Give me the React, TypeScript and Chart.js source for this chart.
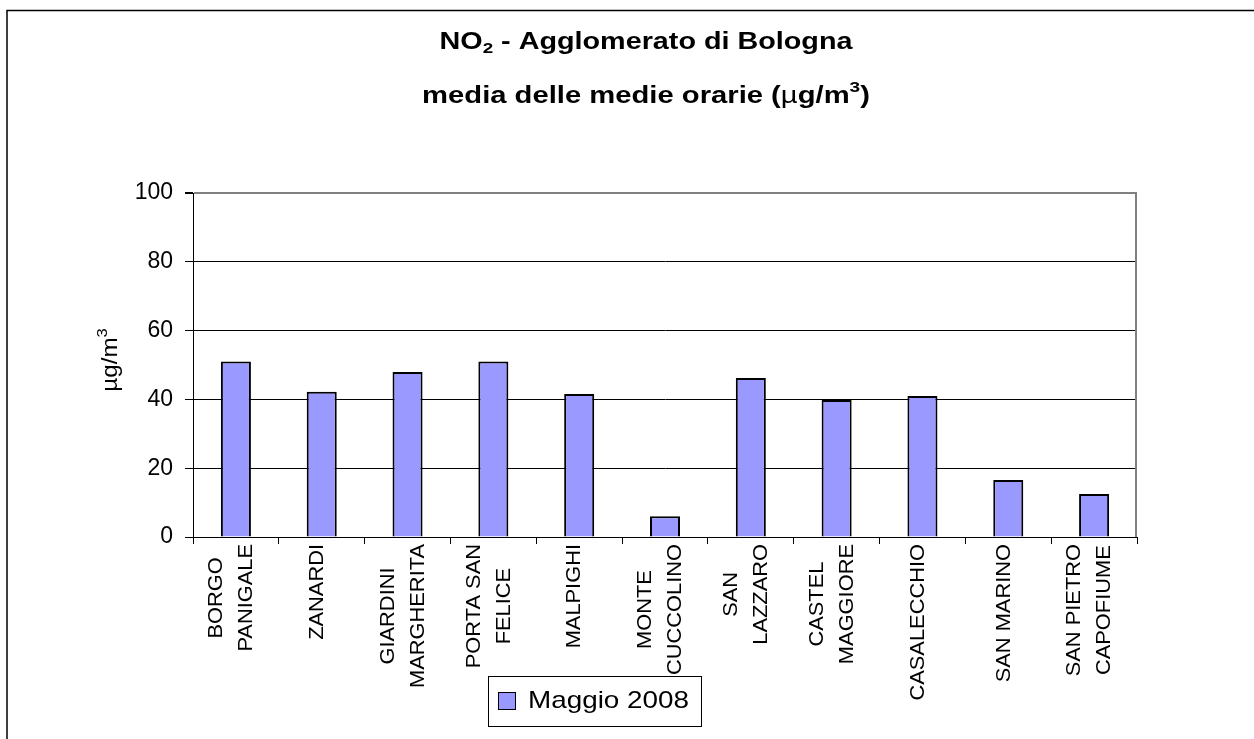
import React, { useEffect, useRef } from "react";
import { Chart, registerables } from "chart.js";

Chart.register(...registerables);

const categories: string[][] = [
  ["BORGO", "PANIGALE"],
  ["ZANARDI"],
  ["GIARDINI", "MARGHERITA"],
  ["PORTA SAN", "FELICE"],
  ["MALPIGHI"],
  ["MONTE", "CUCCOLINO"],
  ["SAN", "LAZZARO"],
  ["CASTEL", "MAGGIORE"],
  ["CASALECCHIO"],
  ["SAN MARINO"],
  ["SAN PIETRO", "CAPOFIUME"],
];

const seriesName = "Maggio 2008";
const values = [51, 42.2, 48, 51, 41.6, 6, 46.2, 39.8, 41, 16.6, 12.5];
const yTicks = [0, 20, 40, 60, 80, 100];

const FONT = "Arial, 'Liberation Sans', sans-serif";
const BAR_COLOR = "#9999FF";

type Part = { text: string; font: string; dy?: number };

function drawRich(
  ctx: CanvasRenderingContext2D,
  parts: Part[],
  x: number,
  y: number,
  stretch = 1
) {
  let total = 0;
  for (const p of parts) {
    ctx.font = p.font;
    total += ctx.measureText(p.text).width;
  }
  ctx.save();
  ctx.translate(x, y);
  ctx.scale(stretch, 1);
  let cx = -total / 2;
  ctx.textAlign = "left";
  ctx.textBaseline = "alphabetic";
  for (const p of parts) {
    ctx.font = p.font;
    ctx.fillText(p.text, cx, p.dy || 0);
    cx += ctx.measureText(p.text).width;
  }
  ctx.restore();
}

const decorPlugin = {
  id: "decor",
  beforeDraw(chart: any) {
    const ctx: CanvasRenderingContext2D = chart.ctx;
    ctx.save();
    ctx.fillStyle = "#ffffff";
    ctx.fillRect(0, 0, chart.width, chart.height);
    // outer frame (top + left visible)
    ctx.strokeStyle = "#000";
    ctx.lineWidth = 1.5;
    ctx.beginPath();
    ctx.moveTo(chart.width, 10.5);
    ctx.lineTo(7, 10.5);
    ctx.lineTo(7, chart.height);
    ctx.stroke();
    ctx.restore();
  },
  afterDraw(chart: any) {
    const ctx: CanvasRenderingContext2D = chart.ctx;
    const area = chart.chartArea;
    const xScale = chart.scales.x;
    ctx.save();
    ctx.fillStyle = "#000";

    // plot area right border
    ctx.strokeStyle = "#808080";
    ctx.lineWidth = 2;
    ctx.beginPath();
    ctx.moveTo(area.right - 1, area.top);
    ctx.lineTo(area.right - 1, area.bottom);
    ctx.stroke();

    // title
    const tb = `bold 23px ${FONT}`;
    const ts = `bold 15px ${FONT}`;
    drawRich(ctx, [
      { text: "NO", font: tb },
      { text: "2", font: ts, dy: 4 },
      { text: " - Agglomerato di Bologna", font: tb },
    ], 646, 49, 1.25);
    drawRich(ctx, [
      { text: "media delle medie orarie (", font: tb },
      { text: "µ", font: `23px ${FONT}` },
      { text: "g/m", font: tb },
      { text: "3", font: ts, dy: -11 },
      { text: ")", font: tb },
    ], 646, 103, 1.27);

    // y axis title
    ctx.save();
    ctx.translate(117, 360);
    ctx.rotate(-Math.PI / 2);
    drawRich(ctx, [
      { text: "µg/m", font: `22px ${FONT}` },
      { text: "3", font: `15px ${FONT}`, dy: -10 },
    ], 0, 0, 1.1);
    ctx.restore();

    // x category labels (rotated, lines centered)
    const labels: string[][] = chart.data.labels;
    const lineFont = `21px ${FONT}`;
    ctx.font = lineFont;
    const top = 544;
    const st = 1.04;
    labels.forEach((lines, i) => {
      const cx = xScale.getPixelForValue(i) - 4.5;
      let maxW = 0;
      for (const l of lines) maxW = Math.max(maxW, ctx.measureText(l).width * st);
      const cy = top + maxW / 2;
      const n = lines.length;
      lines.forEach((l, j) => {
        const lx = cx + (j - (n - 1) / 2) * 30;
        ctx.save();
        ctx.translate(lx, cy);
        ctx.rotate(-Math.PI / 2);
        ctx.scale(st, 1);
        ctx.textAlign = "center";
        ctx.textBaseline = "middle";
        ctx.fillText(l, 0, 0);
        ctx.restore();
      });
    });

    // legend
    ctx.strokeStyle = "#000";
    ctx.lineWidth = 1;
    ctx.strokeRect(488.5, 676.5, 213, 50);
    ctx.fillStyle = BAR_COLOR;
    ctx.fillRect(498.5, 692.5, 17, 17);
    ctx.strokeRect(498.5, 692.5, 17, 17);
    ctx.fillStyle = "#000";
    ctx.save();
    ctx.translate(528, 708);
    ctx.scale(1.16, 1);
    ctx.font = `24px ${FONT}`;
    ctx.textAlign = "left";
    ctx.textBaseline = "alphabetic";
    ctx.fillText(chart.data.datasets[0].label, 0, 0);
    ctx.restore();

    ctx.restore();
  },
};

export default function App() {
  const ref = useRef<HTMLCanvasElement | null>(null);

  useEffect(() => {
    if (!ref.current) return;
    const chart = new Chart(ref.current, {
      type: "bar",
      data: {
        labels: categories as any,
        datasets: [
          {
            label: seriesName,
            data: values,
            backgroundColor: BAR_COLOR,
            borderColor: "#000",
            borderWidth: 2,
            barPercentage: 0.35,
            categoryPercentage: 1,
          },
        ],
      },
      options: {
        responsive: false,
        animation: false,
        devicePixelRatio: 1,
        layout: { padding: { left: 0, top: 193, right: 117, bottom: 192 } },
        plugins: {
          legend: { display: false },
          title: { display: false },
          tooltip: { enabled: false },
        },
        scales: {
          x: {
            type: "category",
            offset: true,
            grid: {
              offset: true,
              drawOnChartArea: false,
              drawTicks: true,
              tickLength: 7,
              color: "#000",
              lineWidth: 1,
            },
            border: { color: "#000", width: 1 },
            ticks: { display: false },
            afterFit: (s: any) => {
              s.height = 10;
            },
          },
          y: {
            min: 0,
            max: 100,
            afterBuildTicks: (s: any) => {
              s.ticks = yTicks.map((v) => ({ value: v }));
            },
            ticks: {
              padding: 12,
              color: "#000",
              font: { family: FONT, size: 23 },
            },
            grid: {
              color: (c: any) => (c.tick && c.tick.value === 100 ? "#808080" : "#000"),
              lineWidth: (c: any) => (c.tick && c.tick.value === 100 ? 2 : 1),
              tickColor: "#000",
              tickLength: 8,
            },
            border: { color: "#000", width: 1 },
            afterFit: (s: any) => {
              s.width = 193;
            },
          },
        },
      },
      plugins: [decorPlugin],
    });
    return () => chart.destroy();
  }, []);

  return (
    <div style={{ position: "fixed", left: 0, top: 0, width: 1254, height: 739, background: "#fff" }}>
      <canvas ref={ref} width={1254} height={739} style={{ display: "block" }} />
    </div>
  );
}
